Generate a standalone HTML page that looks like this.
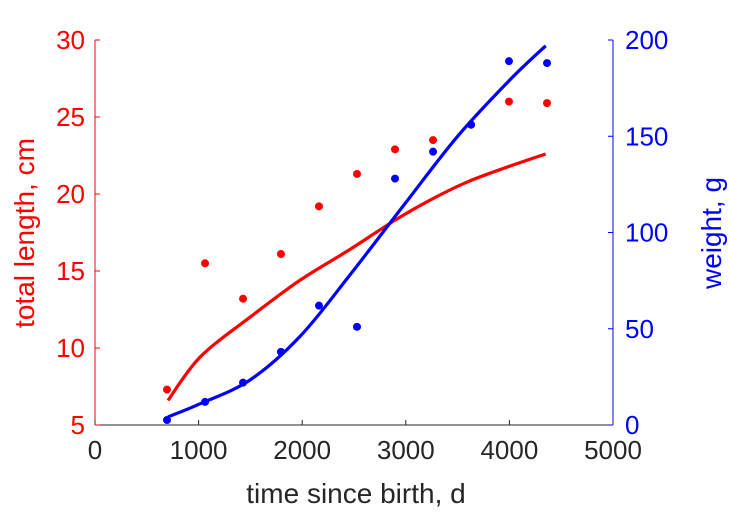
<!DOCTYPE html>
<html><head><meta charset="utf-8"><style>
html,body{margin:0;padding:0;background:#fff;}
svg{display:block;font-family:"Liberation Sans",Arial,sans-serif;}
</style></head><body>
<svg id="chart" width="729" height="521" viewBox="0 0 729 521"></svg>
<script>
const xTicks=[0,1000,2000,3000,4000,5000];
const lenTicks=[5,10,15,20,25,30];
const wTicks=[0,50,100,150,200];
const ageObs=[695,1062,1429,1795,2162,2529,2896,3263,3630,3996,4363];
const lenObs=[7.3,15.5,13.2,16.1,19.2,21.3,22.9,23.5,24.5,26.0,25.9];
const wObs=[2.6,12,22,38,62,51,128,142,156,189,188];
const ageFitL=[705,1013,1496,1979,2461,2896,3234,3600,4000,4350];
const lenFit=[6.6,9.4,12.0,14.4,16.4,18.3,19.6,20.8,21.8,22.6];
const ageFitW=[705,1013,1496,1979,2461,2992,3500,4000,4350];
const wFit=[4.2,11,23.4,46,78,115,150,179,197];

const svg=document.getElementById('chart');
const NS='http://www.w3.org/2000/svg';
const X0=95,X1=613,Y0=425,Y1=40;
const sx=v=>X0+(v-0)/5000*(X1-X0);
const syL=v=>Y0-(v-5)/25*(Y0-Y1);
const syR=v=>Y0-v/200*(Y0-Y1);
function mk(tag,attrs,parent){const e=document.createElementNS(NS,tag);for(const k in attrs)e.setAttribute(k,attrs[k]);(parent||svg).appendChild(e);return e;}

let e=mk('line',{x1:X0,y1:Y0,x2:X1,y2:Y0,stroke:'#262626','stroke-width':1});


e=mk('line',{x1:X0,y1:Y0,x2:X0,y2:Y1,stroke:'#ff0000','stroke-width':1});


e=mk('line',{x1:X1,y1:Y0,x2:X1,y2:Y1,stroke:'#0000ff','stroke-width':1});



xTicks.forEach(t=>{
  mk('line',{x1:sx(t),y1:Y0,x2:sx(t),y2:Y0-5,stroke:'#262626'});
  const tx=mk('text',{x:sx(t),y:Y0+34,'text-anchor':'middle','font-size':26,fill:'#262626'});
  tx.textContent=t;
  
  
});
lenTicks.forEach(t=>{
  mk('line',{x1:X0,y1:syL(t),x2:X0+5,y2:syL(t),stroke:'#ff0000'});
  const tx=mk('text',{x:X0-10,y:syL(t)+9,'text-anchor':'end','font-size':26,fill:'#ff0000'});
  tx.textContent=t;
  
  
});
wTicks.forEach(t=>{
  mk('line',{x1:X1,y1:syR(t),x2:X1-5,y2:syR(t),stroke:'#0000ff'});
  const tx=mk('text',{x:X1+12,y:syR(t)+9,'text-anchor':'start','font-size':26,fill:'#0000ff'});
  tx.textContent=t;
  
  
});

e=mk('text',{x:356,y:503,'text-anchor':'middle','font-size':28,fill:'#262626'});
e.textContent='time since birth, d';


e=mk('text',{x:0,y:0,'text-anchor':'middle','font-size':28,fill:'#ff0000',transform:'translate(34,233) rotate(-90)'});
e.textContent='total length, cm';


e=mk('text',{x:0,y:0,'text-anchor':'middle','font-size':28,fill:'#0000ff',transform:'translate(721,233) rotate(-90)'});
e.textContent='weight, g';



function smooth(xs,ys,fx,fy){
  const p=xs.map((x,i)=>[fx(x),fy(ys[i])]);
  let d='M'+p[0][0].toFixed(1)+' '+p[0][1].toFixed(1);
  for(let i=0;i<p.length-1;i++){
    const p0=p[i-1]||p[i],p1=p[i],p2=p[i+1],p3=p[i+2]||p[i+1];
    const c1=[p1[0]+(p2[0]-p0[0])/6,p1[1]+(p2[1]-p0[1])/6];
    const c2=[p2[0]-(p3[0]-p1[0])/6,p2[1]-(p3[1]-p1[1])/6];
    d+=' C'+c1.map(v=>v.toFixed(1)).join(' ')+' '+c2.map(v=>v.toFixed(1)).join(' ')+' '+p2[0].toFixed(1)+' '+p2[1].toFixed(1);
  }
  return d;
}
e=mk('path',{d:smooth(ageFitL,lenFit,sx,syL),fill:'none',stroke:'#ff0000','stroke-width':3.2,'stroke-linejoin':'round'});


e=mk('path',{d:smooth(ageFitW,wFit,sx,syR),fill:'none',stroke:'#0000ff','stroke-width':3.2,'stroke-linejoin':'round'});



ageObs.forEach((a,i)=>{
  const c=mk('circle',{cx:sx(a),cy:syL(lenObs[i]),r:4,fill:'#ff0000'});
  
  
});
ageObs.forEach((a,i)=>{
  const c=mk('circle',{cx:sx(a),cy:syR(wObs[i]),r:4,fill:'#0000ff'});
  
  
});
</script>
</body></html>
